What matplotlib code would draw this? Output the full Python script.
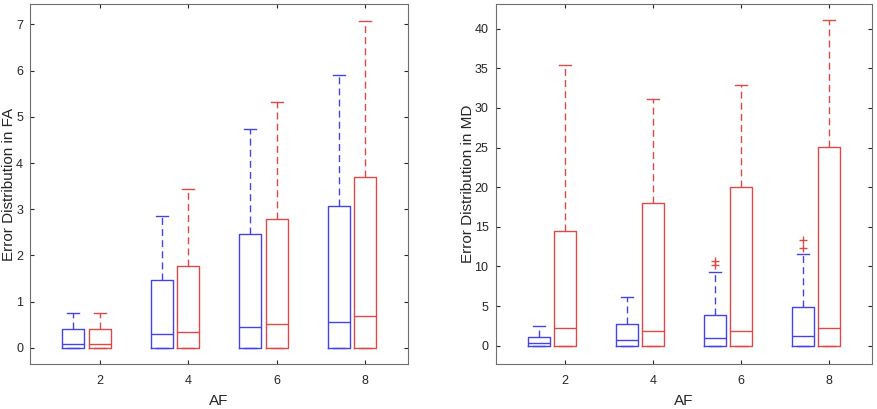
import numpy as np
import matplotlib.pyplot as plt

plt.rcParams['font.family'] = ['Liberation Sans', 'DejaVu Sans']

af = [2, 4, 6, 8]

# FA error distribution
fa_blue_q1 = [0, 0, 0, 0]
fa_blue_med = [0.08, 0.29, 0.45, 0.57]
fa_blue_q3 = [0.40, 1.47, 2.46, 3.08]
fa_blue_hi = [0.75, 2.86, 4.73, 5.91]
fa_red_q1 = [0, 0, 0, 0]
fa_red_med = [0.08, 0.34, 0.52, 0.69]
fa_red_q3 = [0.40, 1.77, 2.78, 3.70]
fa_red_hi = [0.75, 3.44, 5.32, 7.08]

# MD error distribution
md_blue_q1 = [0, 0, 0, 0]
md_blue_med = [0.34, 0.72, 0.93, 1.18]
md_blue_q3 = [1.10, 2.78, 3.87, 4.84]
md_blue_hi = [2.52, 6.10, 9.25, 11.57]
md_blue_out = [[], [], [10.13, 10.64], [12.33, 13.38]]
md_red_q1 = [0, 0, 0, 0]
md_red_med = [2.27, 1.81, 1.81, 2.23]
md_red_q3 = [14.47, 18.0, 20.06, 25.1]
md_red_hi = [35.4, 31.1, 32.9, 41.1]

BLUE = '#4444e6'
RED = '#e04848'
SPINE = '#6e6e6e'


def make_stats(q1, med, q3, hi, out=None):
    stats = []
    for i in range(len(med)):
        stats.append(dict(q1=q1[i], med=med[i], q3=q3[i], whislo=q1[i],
                          whishi=hi[i], fliers=out[i] if out else []))
    return stats


def draw(ax, blue, red, ylim, yticks, ylabel, ylab_x):
    for stats, pos, col in [(blue, np.array(af) - 0.6, BLUE), (red, np.array(af), RED)]:
        ax.bxp(stats, positions=pos, widths=0.5, capwidths=0.27, showfliers=True,
               boxprops=dict(color=col, lw=1),
               medianprops=dict(color=col, lw=1),
               whiskerprops=dict(color=col, lw=1, linestyle=(0, (5, 3))),
               capprops=dict(color=col, lw=1),
               flierprops=dict(marker='+', markeredgecolor=RED, markersize=6,
                               markeredgewidth=1))
    ax.set_xlim(0.42, 8.97)
    ax.set_ylim(*ylim)
    ax.set_xticks(af)
    ax.set_xticklabels([str(a) for a in af])
    ax.set_yticks(yticks)
    ax.tick_params(direction='in', top=True, right=True, length=3,
                   labelsize=9, colors='#262626', width=0.8)
    ax.tick_params(axis='y', pad=5)
    ax.tick_params(axis='x', pad=8)
    for s in ax.spines.values():
        s.set_color(SPINE)
    ax.set_xlabel('AF', fontsize=11, color='#262626', labelpad=5)
    ax.set_ylabel(ylabel, fontsize=11, color='#262626')
    ax.yaxis.set_label_coords(ylab_x, 0.5)


fig = plt.figure(figsize=(8.77, 4.09), dpi=100)
ax1 = fig.add_axes([0.0342, 0.110, 0.431, 0.880])
ax2 = fig.add_axes([0.565, 0.110, 0.429, 0.880])

draw(ax1, make_stats(fa_blue_q1, fa_blue_med, fa_blue_q3, fa_blue_hi),
     make_stats(fa_red_q1, fa_red_med, fa_red_q3, fa_red_hi),
     (-0.35, 7.44), range(0, 8), 'Error Distribution in FA', -0.037)
draw(ax2, make_stats(md_blue_q1, md_blue_med, md_blue_q3, md_blue_hi, md_blue_out),
     make_stats(md_red_q1, md_red_med, md_red_q3, md_red_hi),
     (-2.3, 43.1), range(0, 41, 5), 'Error Distribution in MD', -0.055)

fig.savefig('out.png', dpi=100)
